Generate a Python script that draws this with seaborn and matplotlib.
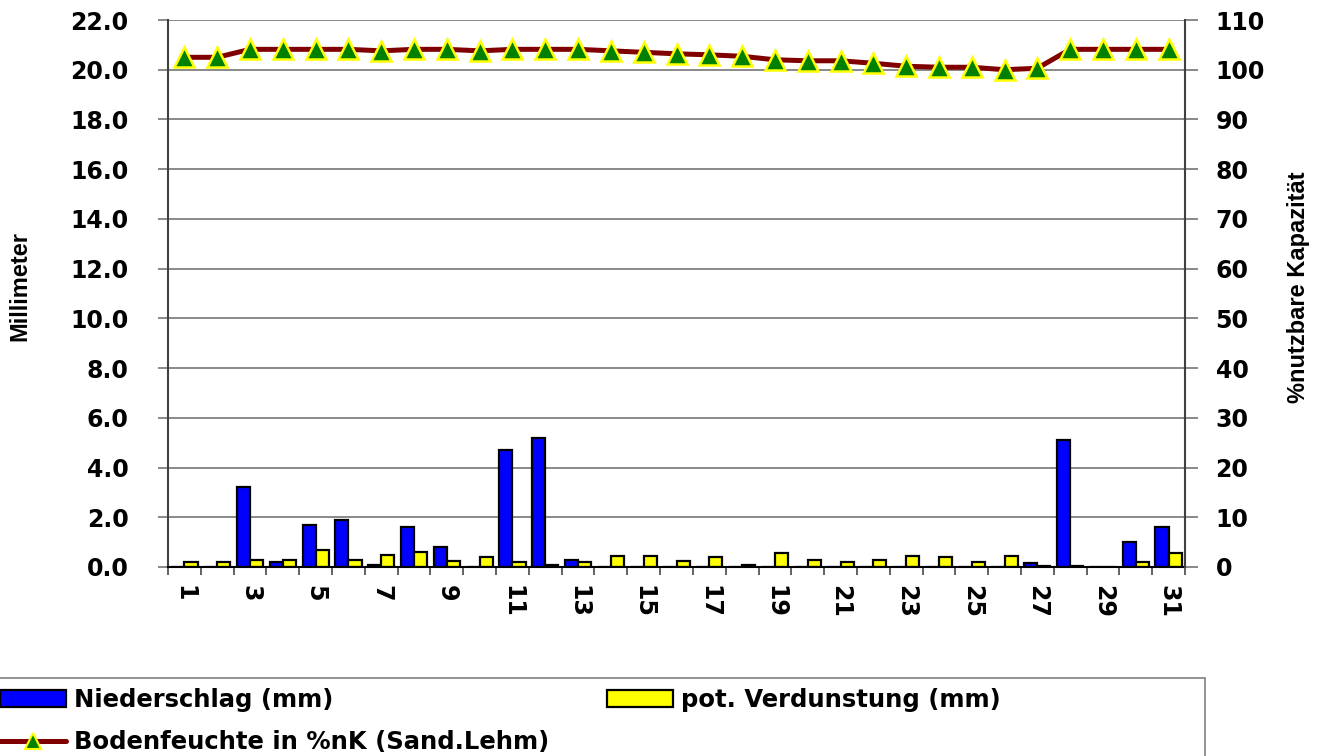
"""Niederschlag, pot. Verdunstung und Bodenfeuchte im Monatsverlauf."""

import matplotlib

matplotlib.use("Agg")

import matplotlib.pyplot as plt
import numpy as np
import pandas as pd
import seaborn as sns
from matplotlib.lines import Line2D
from matplotlib.patches import Patch, Rectangle
from matplotlib.ticker import FormatStrFormatter, MultipleLocator

DAYS = list(range(1, 32))

NIEDERSCHLAG = [
    0.0, 0.0, 3.2, 0.2, 1.7, 1.9, 0.1, 1.6, 0.8, 0.0,
    4.7, 5.2, 0.3, 0.0, 0.0, 0.0, 0.0, 0.0, 0.0, 0.0,
    0.0, 0.0, 0.0, 0.0, 0.0, 0.0, 0.15, 5.1, 0.0, 1.0, 1.6,
]
VERDUNSTUNG = [
    0.2, 0.2, 0.3, 0.3, 0.7, 0.3, 0.5, 0.6, 0.25, 0.4,
    0.2, 0.1, 0.2, 0.45, 0.45, 0.25, 0.4, 0.1, 0.55, 0.3,
    0.2, 0.3, 0.45, 0.4, 0.2, 0.45, 0.05, 0.05, 0.0, 0.2, 0.55,
]
BODENFEUCHTE = [
    102.5, 102.5, 104.1, 104.1, 104.1, 104.1, 103.8, 104.1, 104.1, 103.8,
    104.1, 104.1, 104.1, 103.8, 103.5, 103.2, 103.0, 102.7, 102.0, 101.8,
    101.8, 101.3, 100.7, 100.5, 100.5, 100.0, 100.3, 104.1, 104.1, 104.1, 104.1,
]

LABEL_N = "Niederschlag (mm)"
LABEL_V = "pot. Verdunstung (mm)"
LABEL_B = "Bodenfeuchte in %nK (Sand.Lehm)"

COL_N = "#0000FF"
COL_V = "#FFFF00"
COL_LINE = "#800000"
COL_MARK = "#008000"

W, H = 1327, 756


def main() -> None:
    sns.set_style("white")
    plt.rcParams.update(
        {
            "font.family": ["DejaVu Sans"],
            "font.weight": "bold",
            "text.color": "black",
            "xtick.color": "black",
            "ytick.color": "black",
            "axes.linewidth": 1.5,
        }
    )

    fig = plt.figure(figsize=(W / 100, H / 100), dpi=100)
    ax = fig.add_axes([168 / W, 1 - 567 / H, (1185 - 168) / W, (567 - 20) / H])

    df = pd.DataFrame(
        {
            "Tag": DAYS * 2,
            "mm": NIEDERSCHLAG + VERDUNSTUNG,
            "Reihe": [LABEL_N] * len(DAYS) + [LABEL_V] * len(DAYS),
        }
    )
    sns.barplot(
        data=df,
        x="Tag",
        y="mm",
        hue="Reihe",
        palette=[COL_N, COL_V],
        saturation=1,
        width=0.8,
        edgecolor="black",
        linewidth=1.6,
        legend=False,
        ax=ax,
    )

    ax2 = ax.twinx()
    sns.lineplot(
        x=np.array(DAYS) - 1,
        y=BODENFEUCHTE,
        ax=ax2,
        color=COL_LINE,
        linewidth=3.6,
        marker="^",
        markersize=15,
        markerfacecolor=COL_MARK,
        markeredgecolor=COL_V,
        markeredgewidth=1.8,
    )

    # left axis (mm)
    ax.set_ylim(0, 22)
    ax.yaxis.set_major_locator(MultipleLocator(2))
    ax.yaxis.set_major_formatter(FormatStrFormatter("%.1f"))
    ax.yaxis.grid(True, color="#808080", linewidth=1.3)
    ax.set_axisbelow(True)
    ax.set_xlim(-0.5, len(DAYS) - 0.5)
    ax.set_xlabel("")
    ax.set_ylabel("")
    ax.tick_params(axis="y", which="major", left=True, length=7.5, width=1.3,
                   color="#808080", labelcolor="black", pad=21, labelsize=17)

    odd = np.arange(0, len(DAYS), 2)
    ax.set_xticks(odd)
    ax.set_xticklabels([str(DAYS[i]) for i in odd], rotation=270, fontsize=17)
    ax.set_xticks(np.arange(-0.5, len(DAYS), 1), minor=True)
    ax.tick_params(axis="x", which="major", length=0, pad=13, labelcolor="black")
    ax.tick_params(axis="x", which="minor", bottom=True, length=6, width=1.3,
                   color="#555555")

    for side in ["top", "right"]:
        ax.spines[side].set_visible(False)
    ax.spines["left"].set_color("#404040")
    ax.spines["bottom"].set_color("black")

    # right axis (% nK)
    ax2.set_ylim(0, 110)
    ax2.yaxis.set_major_locator(MultipleLocator(10))
    ax2.set_ylabel("")
    ax2.tick_params(axis="y", right=True, length=9, width=1.3, color="#808080",
                    labelcolor="black", pad=13, labelsize=17)
    for side in ["top", "left", "bottom"]:
        ax2.spines[side].set_visible(False)
    ax2.spines["right"].set_color("#404040")

    fig.text(20 / W, 1 - 286 / H, "Millimeter", rotation=90, ha="center",
             va="center", fontsize=17, family=["Liberation Sans"])
    fig.text(1298 / W, 1 - 287 / H, "%nutzbare Kapazität", rotation=90,
             ha="center", va="center", fontsize=17, family=["Liberation Sans"])

    # legend below the chart
    handles = [
        Patch(facecolor=COL_N, edgecolor="black", linewidth=1.6),
        Line2D([], [], color=COL_LINE, linewidth=3.6, marker="^", markersize=12,
               markerfacecolor=COL_MARK, markeredgecolor=COL_V,
               markeredgewidth=1.5),
        Patch(facecolor=COL_V, edgecolor="black", linewidth=1.6),
    ]
    labels = [LABEL_N, LABEL_B, LABEL_V]
    fig.legend(
        handles,
        labels,
        loc="upper left",
        bbox_to_anchor=(0, 1 - 688 / H),
        ncol=2,
        frameon=False,
        borderpad=0,
        borderaxespad=0,
        handlelength=2.7,
        handleheight=0.75,
        handletextpad=0.33,
        columnspacing=2.4,
        labelspacing=0.76,
        prop={"family": ["DejaVu Sans"], "weight": "bold", "size": 17.5},
    )
    fig.add_artist(
        Rectangle((-0.01, -0.05), 1218 / W, (756 - 678) / H + 0.05,
                  transform=fig.transFigure, fill=False,
                  edgecolor="#808080", linewidth=1.2)
    )

    fig.savefig("out.png", dpi=100)
    plt.close(fig)


if __name__ == "__main__":
    main()
